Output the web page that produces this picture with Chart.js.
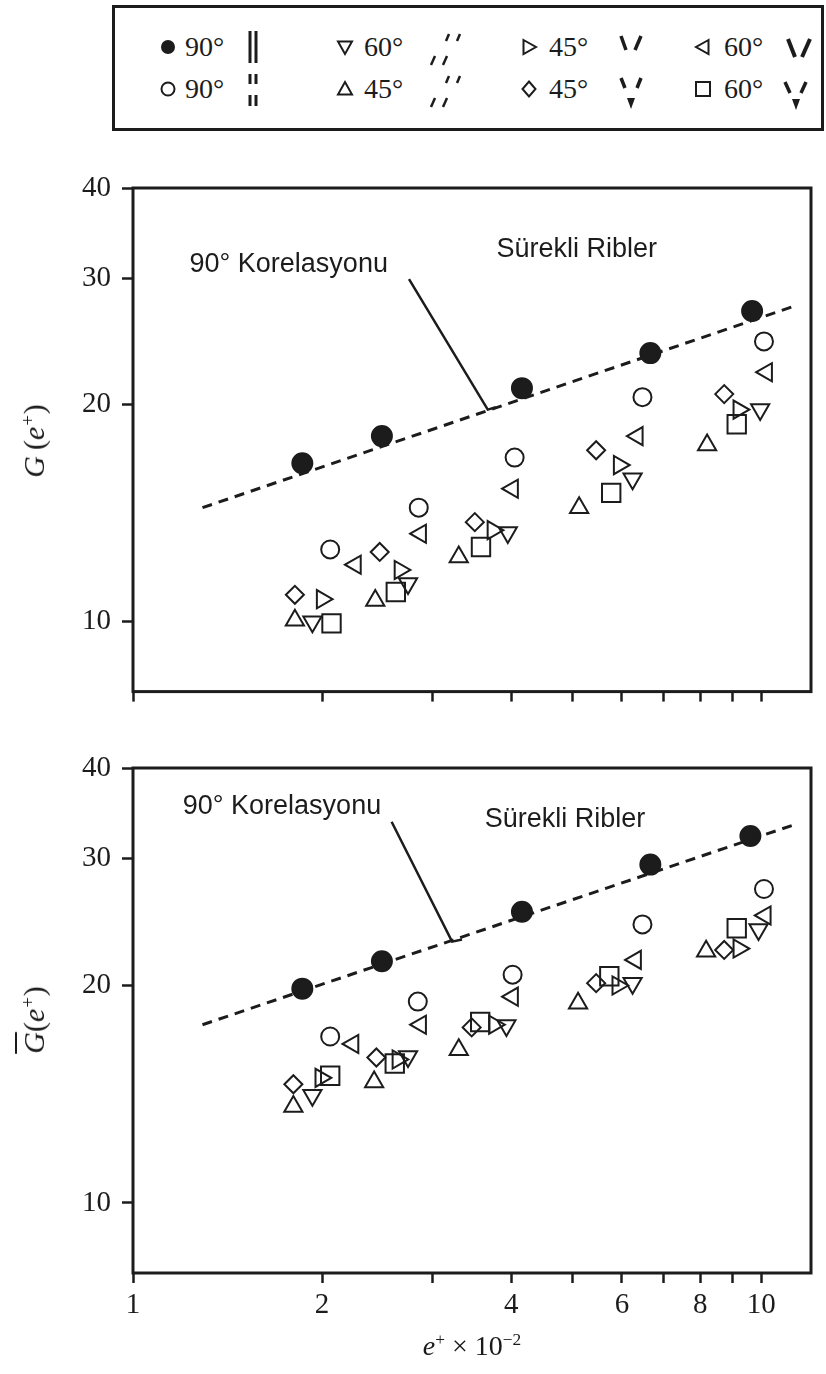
<!DOCTYPE html>
<html>
<head>
<meta charset="utf-8">
<script src="https://cdn.jsdelivr.net/npm/chart.js@4.4.1/dist/chart.umd.min.js"></script>
<style>
  html, body { margin: 0; padding: 0; background: #fff; }
  body { width: 826px; height: 1374px; position: relative; overflow: hidden;
         font-family: "Liberation Serif", "Times New Roman", serif; color: #1a1a1a; }
  #legendBox { position: absolute; left: 112px; top: 5px; width: 706px; height: 120px;
               border: 3px solid #1c1c1c; }
  #legendArt { position: absolute; left: 0; top: 0; }
  .wrap { position: absolute; left: 0; width: 826px; }
  .ytitle { position: absolute; white-space: nowrap; font-size: 30px; font-style: italic;
            transform: translate(-50%, -50%) rotate(-90deg); }
  .ytitle span.up { font-style: normal; }
  .xtitle { position: absolute; white-space: nowrap; font-size: 28px;
            transform: translate(-50%, -50%); }
  sup { font-size: 62%; vertical-align: 0.55em; line-height: 0; }
  .ov { text-decoration: overline; text-decoration-thickness: 1.5px; }
</style>
</head>
<body>
<div id="legendBox"></div>
<svg id="legendArt" width="826" height="140"></svg>

<div class="wrap" style="top:150px;height:570px;"><canvas id="upper" width="826" height="570"></canvas></div>
<div class="wrap" style="top:720px;height:654px;"><canvas id="lower" width="826" height="654"></canvas></div>

<div class="ytitle" style="left:34px;top:441px;">G<span class="up">&#8201;(</span>e<sup class="up">+</sup><span class="up">)</span></div>
<div class="ytitle" style="left:34px;top:1020px;"><span class="ov">G</span><span class="up">(</span>e<sup class="up">+</sup><span class="up">)</span></div>
<div class="xtitle" style="left:472px;top:1346px;"><i>e</i><sup>+</sup> × 10<sup>−2</sup></div>

<script>
// ---- axis ticks ----
const xTickValues = [1, 2, 3, 4, 5, 6, 7, 8, 9, 10];
const xLabelValues = [1, 2, 4, 6, 8, 10];
const yTickValues = [10, 20, 30, 40];

// ---- upper panel: G(e+) ----
const upperF90X  = [1.86, 2.49, 4.16, 6.66, 9.67];
const upperF90Y  = [16.6, 18.1, 21.1, 23.6, 27.0];
const upperO90X  = [2.06, 2.85, 4.05, 6.47, 10.1];
const upperO90Y  = [12.6, 14.4, 16.9, 20.5, 24.5];
const upperDn60X = [1.93, 2.74, 3.95, 6.24, 9.96];
const upperDn60Y = [10.0, 11.3, 13.3, 15.8, 19.7];
const upperUp45X = [1.81, 2.43, 3.30, 5.13, 8.20];
const upperUp45Y = [10.05, 10.7, 12.3, 14.4, 17.6];
const upperRt45X = [2.00, 2.66, 3.74, 5.94, 9.21];
const upperRt45Y = [10.75, 11.8, 13.4, 16.5, 19.7];
const upperDi45X = [1.81, 2.47, 3.50, 5.46, 8.73];
const upperDi45Y = [10.9, 12.5, 13.75, 17.3, 20.7];
const upperLt60X = [2.26, 2.87, 4.02, 6.35, 10.2];
const upperLt60Y = [12.0, 13.25, 15.3, 18.1, 22.2];
const upperSq60X = [2.07, 2.62, 3.58, 5.77, 9.14];
const upperSq60Y = [9.95, 11.0, 12.7, 15.1, 18.8];
const upperCorrX = [1.29, 11.4];
const upperCorrY = [14.4, 27.5];
const upperLeadX = [2.75, 3.67, 3.78];
const upperLeadY = [29.9, 19.7, 19.85];

// ---- lower panel: mean G(e+) ----
const lowerF90X  = [1.86, 2.49, 4.16, 6.66, 9.61];
const lowerF90Y  = [19.8, 21.6, 25.3, 29.4, 32.2];
const lowerO90X  = [2.06, 2.84, 4.02, 6.47, 10.1];
const lowerO90Y  = [17.0, 19.0, 20.7, 24.3, 27.2];
const lowerDn60X = [1.93, 2.74, 3.93, 6.24, 9.90];
const lowerDn60Y = [14.1, 15.95, 17.6, 20.15, 23.9];
const lowerUp45X = [1.80, 2.42, 3.30, 5.11, 8.17];
const lowerUp45Y = [13.6, 14.7, 16.3, 18.9, 22.3];
const lowerRt45X = [1.99, 2.64, 3.76, 5.91, 9.21];
const lowerRt45Y = [14.9, 15.8, 17.65, 20.0, 22.5];
const lowerDi45X = [1.80, 2.44, 3.46, 5.46, 8.73];
const lowerDi45Y = [14.6, 15.9, 17.5, 20.15, 22.4];
const lowerLt60X = [2.24, 2.87, 4.02, 6.31, 10.15];
const lowerLt60Y = [16.6, 17.65, 19.3, 21.7, 25.0];
const lowerSq60X = [2.06, 2.61, 3.57, 5.73, 9.14];
const lowerSq60Y = [15.0, 15.6, 17.8, 20.6, 24.0];
const lowerCorrX = [1.29, 11.3];
const lowerCorrY = [17.65, 33.4];
const lowerLeadX = [2.58, 3.22, 3.34];
const lowerLeadY = [33.7, 23.0, 23.15];

// ---- annotation texts ----
const corrLabel = '90° Korelasyonu';
const ribLabel = 'Sürekli Ribler';
const upperNotes = [
  { text: corrLabel, x: 1.23, y: 31.3 },
  { text: ribLabel,  x: 3.79, y: 32.85 }
];
const lowerNotes = [
  { text: corrLabel, x: 1.20, y: 35.4 },
  { text: ribLabel,  x: 3.63, y: 33.9 }
];

// ---- legend labels (column-major, two rows) ----
const legendLabels = ['90°', '90°', '60°', '45°', '45°', '45°', '60°', '60°'];

const INK = '#1c1c1c';
const pts = (xs, ys) => xs.map((x, i) => ({ x, y: ys[i] }));

function marker(data, style, radius, rotation, filled) {
  return {
    data, showLine: false,
    pointStyle: style, pointRadius: radius, pointHoverRadius: radius,
    pointRotation: rotation || 0,
    pointBorderWidth: 2, pointBorderColor: INK,
    pointBackgroundColor: filled ? INK : 'rgba(0,0,0,0)'
  };
}
function line(data, dashed) {
  return {
    data, showLine: true, pointRadius: 0, borderColor: INK,
    borderWidth: dashed ? 3 : 2.5, borderDash: dashed ? [10, 7] : [],
    tension: 0, fill: false
  };
}

function panelDatasets(p) {
  return [
    line(pts(p.corrX, p.corrY), true),
    line(pts(p.leadX, p.leadY), false),
    marker(pts(p.f90X, p.f90Y), 'circle', 10, 0, true),
    marker(pts(p.o90X, p.o90Y), 'circle', 9, 0, false),
    marker(pts(p.dn60X, p.dn60Y), 'triangle', 10.5, 180, false),
    marker(pts(p.up45X, p.up45Y), 'triangle', 10.5, 0, false),
    marker(pts(p.rt45X, p.rt45Y), 'triangle', 10.5, 90, false),
    marker(pts(p.di45X, p.di45Y), 'rectRot', 9, 0, false),
    marker(pts(p.lt60X, p.lt60Y), 'triangle', 10.5, 270, false),
    marker(pts(p.sq60X, p.sq60Y), 'rect', 13, 0, false)
  ];
}

// frame around the plotting area
const framePlugin = {
  id: 'frame',
  afterDraw(chart) {
    const a = chart.chartArea, ctx = chart.ctx;
    ctx.save();
    ctx.strokeStyle = INK; ctx.lineWidth = 3;
    ctx.strokeRect(a.left, a.top, a.right - a.left, a.bottom - a.top);
    ctx.restore();
  }
};
// text notes placed at data coordinates
const notesPlugin = {
  id: 'notes',
  afterDatasetsDraw(chart, args, opts) {
    const ctx = chart.ctx, xs = chart.scales.x, ys = chart.scales.y;
    ctx.save();
    ctx.font = '27px "Liberation Sans", Arial, sans-serif';
    ctx.fillStyle = INK; ctx.textAlign = 'left'; ctx.textBaseline = 'middle';
    (opts.items || []).forEach(n => ctx.fillText(n.text, xs.getPixelForValue(n.x), ys.getPixelForValue(n.y)));
    ctx.restore();
  }
};

function makeChart(id, p, notes, xAxisHeight, showXLabels) {
  return new Chart(document.getElementById(id), {
    type: 'scatter',
    data: { datasets: panelDatasets(p) },
    plugins: [framePlugin, notesPlugin],
    options: {
      responsive: false, animation: false, devicePixelRatio: 1,
      layout: { padding: { top: p.padTop, right: 6, left: 0, bottom: 0 } },
      plugins: { legend: { display: false }, tooltip: { enabled: false }, notes: { items: notes } },
      scales: {
        x: {
          type: 'logarithmic', min: 1, max: 12,
          afterBuildTicks: s => { s.ticks = xTickValues.map(v => ({ value: v })); },
          afterFit: s => { s.height = xAxisHeight; },
          border: { display: false },
          grid: { drawOnChartArea: false, drawTicks: true, tickLength: 10, tickWidth: 2.5, tickColor: INK },
          ticks: {
            autoSkip: false, maxRotation: 0, padding: 5, color: INK,
            font: { family: '"Liberation Serif", serif', size: 29 },
            callback: v => (showXLabels && xLabelValues.includes(v)) ? String(v) : ''
          }
        },
        y: {
          type: 'logarithmic', min: 8, max: 40,
          afterBuildTicks: s => { s.ticks = yTickValues.map(v => ({ value: v })); },
          afterFit: s => { s.width = 133; },
          border: { display: false },
          grid: { drawOnChartArea: false, drawTicks: true, tickLength: 11, tickWidth: 2.5, tickColor: INK },
          ticks: {
            autoSkip: false, padding: 11, color: INK,
            font: { family: '"Liberation Serif", serif', size: 29 },
            callback: v => String(v)
          }
        }
      }
    }
  });
}

makeChart('upper', {
  f90X: upperF90X, f90Y: upperF90Y, o90X: upperO90X, o90Y: upperO90Y,
  dn60X: upperDn60X, dn60Y: upperDn60Y, up45X: upperUp45X, up45Y: upperUp45Y,
  rt45X: upperRt45X, rt45Y: upperRt45Y, di45X: upperDi45X, di45Y: upperDi45Y,
  lt60X: upperLt60X, lt60Y: upperLt60Y, sq60X: upperSq60X, sq60Y: upperSq60Y,
  corrX: upperCorrX, corrY: upperCorrY, leadX: upperLeadX, leadY: upperLeadY, padTop: 38
}, upperNotes, 27, false);

makeChart('lower', {
  f90X: lowerF90X, f90Y: lowerF90Y, o90X: lowerO90X, o90Y: lowerO90Y,
  dn60X: lowerDn60X, dn60Y: lowerDn60Y, up45X: lowerUp45X, up45Y: lowerUp45Y,
  rt45X: lowerRt45X, rt45Y: lowerRt45Y, di45X: lowerDi45X, di45Y: lowerDi45Y,
  lt60X: lowerLt60X, lt60Y: lowerLt60Y, sq60X: lowerSq60X, sq60Y: lowerSq60Y,
  corrX: lowerCorrX, corrY: lowerCorrY, leadX: lowerLeadX, leadY: lowerLeadY, padTop: 48
}, lowerNotes, 101, true);

// ---- legend: marker, label and rib sketch for each configuration ----
(function buildLegend() {
  const svg = document.getElementById('legendArt');
  const NS = 'http://www.w3.org/2000/svg';
  const add = (tag, attrs, text) => {
    const el = document.createElementNS(NS, tag);
    for (const k in attrs) el.setAttribute(k, attrs[k]);
    if (text) el.textContent = text;
    svg.appendChild(el);
    return el;
  };
  const rows = [47, 89];
  const markerX = [168, 345, 529, 703];
  const textX = [185, 364, 549, 724];
  const stroke = { fill: 'none', stroke: INK, 'stroke-width': 2 };
  const poly = (cx, cy, p) => add('polygon', Object.assign({ points: p.map(([dx, dy]) => (cx + dx) + ',' + (cy + dy)).join(' ') }, stroke));
  const drawMarker = [
    (x, y) => add('circle', { cx: x, cy: y, r: 7, fill: INK }),
    (x, y) => add('circle', Object.assign({ cx: x, cy: y, r: 6.5 }, stroke)),
    (x, y) => poly(x, y, [[-7, -5.5], [7, -5.5], [0, 7]]),
    (x, y) => poly(x, y, [[0, -7], [7, 5.5], [-7, 5.5]]),
    (x, y) => poly(x, y, [[-5.5, -7], [7, 0], [-5.5, 7]]),
    (x, y) => poly(x, y, [[0, -7.5], [6.5, 0], [0, 7.5], [-6.5, 0]]),
    (x, y) => poly(x, y, [[5.5, -7], [-7, 0], [5.5, 7]]),
    (x, y) => add('rect', Object.assign({ x: x - 7, y: y - 7, width: 14, height: 14 }, stroke))
  ];
  legendLabels.forEach((lab, i) => {
    const col = Math.floor(i / 2), row = i % 2;
    drawMarker[i](markerX[col], rows[row]);
    add('text', { x: textX[col], y: rows[row] + 9, 'font-family': 'Liberation Serif, serif',
                  'font-size': 28, fill: INK }, lab);
  });
  const seg = (x1, y1, x2, y2, w) => add('line', { x1, y1, x2, y2, stroke: INK, 'stroke-width': w || 3 });
  const tri = (cx, cy) => add('polygon', { points: `${cx - 4},${cy - 5} ${cx + 4},${cy - 5} ${cx},${cy + 6}`, fill: INK });
  // column 1: continuous and interrupted parallel ribs
  seg(250, 31, 250, 63); seg(256, 31, 256, 63);
  seg(250, 74, 250, 84); seg(256, 74, 256, 84);
  seg(250, 95, 250, 106); seg(256, 95, 256, 106);
  // column 2: staggered oblique rib segments
  [[47], [89]].forEach(([cy]) => {
    seg(446, cy - 6, 449, cy - 13, 2.5); seg(457, cy - 6, 460, cy - 13, 2.5);
    seg(431, cy + 18, 435, cy + 9, 2.5); seg(443, cy + 18, 447, cy + 9, 2.5);
  });
  // column 3: open V pairs, second with a trailing tip
  seg(621, 36, 626, 50, 3.5); seg(641, 36, 635, 50, 3.5);
  seg(621, 78, 625, 88, 3.5); seg(641, 78, 637, 88, 3.5); tri(631, 103);
  // column 4: wider V pairs
  seg(788, 39, 795, 57, 4); seg(810, 39, 802, 57, 4);
  seg(785, 82, 790, 93, 3.5); seg(806, 82, 801, 93, 3.5); tri(796, 104);
})();
</script>
</body>
</html>
